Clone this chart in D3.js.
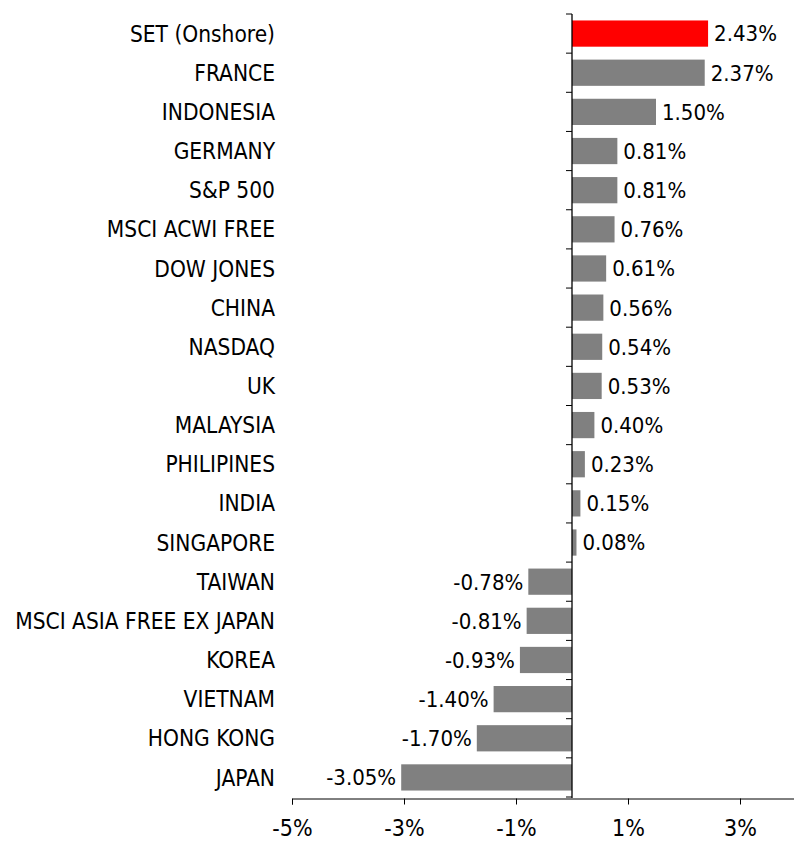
<!DOCTYPE html>
<html><head><meta charset="utf-8">
<script src="https://cdn.jsdelivr.net/npm/d3@7"></script>
<style>body{margin:0;background:#fff;} svg{display:block;}</style>
</head><body>
<script>
const categories = ["SET (Onshore)","FRANCE","INDONESIA","GERMANY","S&P 500","MSCI ACWI FREE","DOW JONES","CHINA","NASDAQ","UK","MALAYSIA","PHILIPINES","INDIA","SINGAPORE","TAIWAN","MSCI ASIA FREE EX JAPAN","KOREA","VIETNAM","HONG KONG","JAPAN"];
const values = [2.43,2.37,1.50,0.81,0.81,0.76,0.61,0.56,0.54,0.53,0.40,0.23,0.15,0.08,-0.78,-0.81,-0.93,-1.40,-1.70,-3.05];
const tickValues = [-5,-3,-1,1,3];
const highlight = "SET (Onshore)";

const W = 794, H = 842;
const font = "'DejaVu Sans Condensed','DejaVu Sans',sans-serif";
const svg = d3.select("body").append("svg").attr("width", W).attr("height", H);

const x = d3.scaleLinear().domain([-5,5]).range([292,852]);
const y = d3.scaleBand().domain(categories).range([14,797]).paddingInner(0.33).paddingOuter(0.165);
const yLine = d3.scaleBand().domain(categories).range([14,797]);

// bars
svg.selectAll("rect.bar").data(categories).enter().append("rect")
  .attr("x", (d,i)=> x(Math.min(0,values[i])))
  .attr("y", d=> y(d))
  .attr("width", (d,i)=> Math.abs(x(values[i])-x(0)))
  .attr("height", y.bandwidth())
  .attr("fill", d=> d===highlight ? "#ff0000" : "#808080");

// value labels
svg.selectAll("text.val").data(categories).enter().append("text")
  .attr("x", (d,i)=> values[i]>=0 ? x(values[i])+6 : x(values[i])-5)
  .attr("y", d=> y(d)+y.bandwidth()/2)
  .attr("dy","0.36em")
  .attr("text-anchor", (d,i)=> values[i]>=0 ? "start":"end")
  .attr("font-family", font).attr("font-size", 22).attr("fill","#000")
  .text((d,i)=> values[i].toFixed(2)+"%");

// category labels
svg.selectAll("text.cat").data(categories).enter().append("text")
  .attr("x", 275)
  .attr("y", d=> y(d)+y.bandwidth()/2)
  .attr("dy","0.36em")
  .attr("text-anchor","end")
  .attr("font-family", font).attr("font-size", 22.5).attr("fill","#000")
  .text(d=>d);

// vertical axis at zero
const yg = svg.append("g").attr("transform",`translate(${x(0)},0)`);
yg.append("line").attr("x1",0).attr("x2",0).attr("y1",14).attr("y2",798).attr("stroke","#000").attr("stroke-width",1.3);
const bounds = categories.map(c=>yLine(c)).concat([797]);
yg.selectAll("line.t").data(bounds).enter().append("line")
  .attr("x1",-6).attr("x2",0).attr("y1",d=>d).attr("y2",d=>d).attr("stroke","#000");

// bottom axis
const xAxis = d3.axisBottom(x).tickValues(tickValues).tickSize(6).tickPadding(15).tickFormat(d=>d+"%");
const xg = svg.append("g").attr("transform","translate(0,798.5)").call(xAxis);
xg.select(".domain").attr("stroke","#000");
xg.selectAll(".tick line").attr("stroke","#000");
xg.selectAll(".tick text").attr("font-family",font).attr("font-size",23).attr("fill","#000");
</script>
</body></html>
